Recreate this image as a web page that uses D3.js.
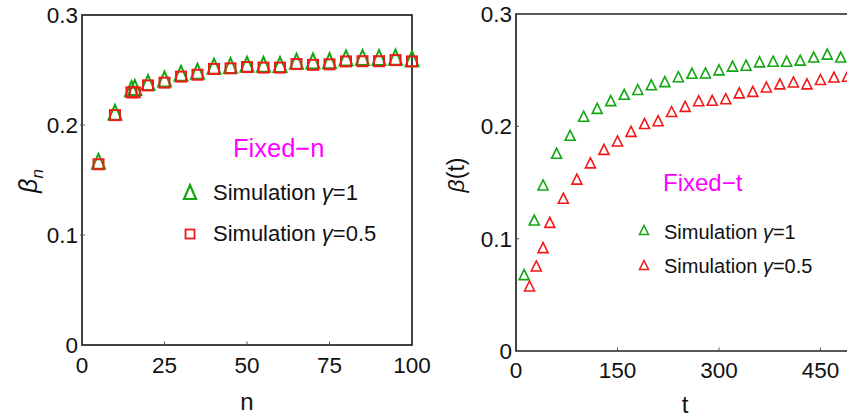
<!DOCTYPE html>
<html><head><meta charset="utf-8">
<script src="https://cdn.jsdelivr.net/npm/d3@7"></script>
<style>
html,body{margin:0;padding:0;background:#fff;}
svg{display:block;}
text{font-family:"Liberation Sans",Arial,Helvetica,sans-serif;fill:#111;}
</style></head>
<body>
<svg id="c" width="847" height="419"></svg>
<script>
// ---------- DATA ----------
const nValues = [5,10,15,16,20,25,30,35,40,45,50,55,60,65,70,75,80,85,90,95,100];
const betaN_gamma1 = [0.167,0.2115,0.233,0.234,0.2386,0.2418,0.247,0.2488,0.2535,0.254,0.2552,0.2552,0.2550,0.2580,0.2582,0.2584,0.2610,0.2614,0.2614,0.2617,0.2603];
const betaN_gamma05 = [0.1643,0.209,0.2297,0.2297,0.236,0.2385,0.244,0.2457,0.2510,0.2515,0.2527,0.2522,0.2522,0.2554,0.2547,0.2552,0.2578,0.2580,0.2580,0.2590,0.2578];

const tValues_gamma1 = [12,27,40,60,80,100,120,140,160,180,200,220,240,260,280,300,320,340,360,380,400,420,440,460,480];
const betaT_gamma1 = [0.068,0.1166,0.1478,0.176,0.192,0.209,0.216,0.2229,0.2285,0.2328,0.2370,0.2398,0.2442,0.2472,0.2475,0.2503,0.2536,0.2544,0.2574,0.2580,0.2580,0.2589,0.2617,0.2643,0.2617];
const tValues_gamma05 = [20,30,40,50,70,90,110,130,150,170,190,210,230,250,270,290,310,330,350,370,390,410,430,450,470,490];
const betaT_gamma05 = [0.0579,0.0757,0.092,0.1145,0.136,0.153,0.1675,0.1795,0.187,0.1955,0.2025,0.205,0.2132,0.2178,0.2228,0.2232,0.2246,0.2298,0.2311,0.235,0.2378,0.2395,0.2378,0.2417,0.2439,0.2446];

const xTicksN = [0,25,50,75,100];
const xTicksT = [0,150,300,450];
const yTicks = [0,0.1,0.2,0.3];
const yTickLabels = ["0","0.1","0.2","0.3"];

const legendPrefix = "Simulation ";
const legendGammas = ["1","0.5"];
const titleN = "Fixed\u2212n", titleT = "Fixed\u2212t";

// ---------- STYLE ----------
const GREEN = "#12a612", RED = "#f21818", MAGENTA = "#ff00ff", AXIS = "#222";
const svg = d3.select("#c");

function triPath(cx, cy, w, h){
  return `M${cx},${cy-h/2}L${cx+w/2},${cy+h/2}L${cx-w/2},${cy+h/2}Z`;
}
function legendText(g, x, y, size, gammaVal){
  const t = g.append("text").attr("x",x).attr("y",y).attr("font-size",size);
  t.append("tspan").text(legendPrefix);
  t.append("tspan").attr("font-style","italic").text("\u03B3");
  t.append("tspan").text("=" + gammaVal);
}

// ---------- LEFT PANEL ----------
const xL = d3.scaleLinear().domain([0,100]).range([82,412]);
const yL = d3.scaleLinear().domain([0,0.3]).range([345,15]);

const gL = svg.append("g");
gL.append("rect").attr("x",xL(0)).attr("y",yL(0.3)).attr("width",xL(100)-xL(0)).attr("height",yL(0)-yL(0.3))
  .attr("fill","none").attr("stroke",AXIS).attr("stroke-width",1.7);
xTicksN.slice(1,-1).forEach(v=>{
  gL.append("line").attr("x1",xL(v)).attr("x2",xL(v)).attr("y1",yL(0)).attr("y2",yL(0)-3.5).attr("stroke","#555").attr("stroke-width",1);
});
yTicks.slice(1,-1).forEach(v=>{
  gL.append("line").attr("x1",xL(0)-2).attr("x2",xL(0)+3).attr("y1",yL(v)).attr("y2",yL(v)).attr("stroke","#555").attr("stroke-width",1);
});
xTicksN.forEach(v=>{
  gL.append("text").attr("x",xL(v)).attr("y",373).attr("text-anchor","middle").attr("font-size",22.5).text(v);
});
yTicks.forEach((v,i)=>{
  gL.append("text").attr("x",xL(0)-4).attr("y",yL(v)).attr("dy","0.36em").attr("text-anchor","end").attr("font-size",22.5).text(yTickLabels[i]);
});
gL.append("text").attr("x",xL(50)).attr("y",410).attr("text-anchor","middle").attr("font-size",24).text("n");
const ylabL = gL.append("text").attr("transform","translate(37,181) rotate(-90)").attr("text-anchor","middle").attr("font-size",25);
ylabL.append("tspan").attr("font-style","italic").text("\u03B2");
ylabL.append("tspan").attr("font-style","italic").attr("font-size",17).attr("dy",6).text("n");

gL.selectAll("path.g1").data(nValues).join("path")
  .attr("d",(d,i)=>triPath(xL(d), yL(betaN_gamma1[i]), 13, 15))
  .attr("fill","none").attr("stroke",GREEN).attr("stroke-width",2);
gL.selectAll("rect.g05").data(nValues).join("rect")
  .attr("x",d=>xL(d)-5).attr("y",(d,i)=>yL(betaN_gamma05[i])-5).attr("width",10).attr("height",10)
  .attr("fill","none").attr("stroke",RED).attr("stroke-width",2);

gL.append("text").attr("x",233).attr("y",157).attr("font-size",25.5).style("fill",MAGENTA).text(titleN);
gL.append("path").attr("d",triPath(190,192,12,14)).attr("fill","none").attr("stroke",GREEN).attr("stroke-width",2.2);
gL.append("rect").attr("x",185.5).attr("y",229.5).attr("width",9).attr("height",9).attr("fill","none").attr("stroke",RED).attr("stroke-width",1.8);
legendText(gL, 213, 200, 22, legendGammas[0]);
legendText(gL, 213, 241, 22, legendGammas[1]);

// ---------- RIGHT PANEL ----------
const xR = d3.scaleLinear().domain([0,500]).range([516,854.3]);
const yR = d3.scaleLinear().domain([0,0.3]).range([351,14]);
const gR = svg.append("g");
gR.append("path").attr("d",`M${xR(500)},${yR(0.3)}H${xR(0)}V${yR(0)}H${xR(500)}`)
  .attr("fill","none").attr("stroke",AXIS).attr("stroke-width",1.7);
xTicksT.slice(1).forEach(v=>{
  gR.append("line").attr("x1",xR(v)).attr("x2",xR(v)).attr("y1",yR(0)).attr("y2",yR(0)-3.5).attr("stroke","#555").attr("stroke-width",1);
});
yTicks.slice(1,-1).forEach(v=>{
  gR.append("line").attr("x1",xR(0)).attr("x2",xR(0)+3).attr("y1",yR(v)).attr("y2",yR(v)).attr("stroke","#555").attr("stroke-width",1);
});
xTicksT.forEach(v=>{
  gR.append("text").attr("x",xR(v)).attr("y",378).attr("text-anchor","middle").attr("font-size",22.5).text(v);
});
yTicks.forEach((v,i)=>{
  gR.append("text").attr("x",xR(0)-4).attr("y",yR(v)).attr("dy","0.36em").attr("text-anchor","end").attr("font-size",22.5).text(yTickLabels[i]);
});
gR.append("text").attr("x",685).attr("y",413).attr("text-anchor","middle").attr("font-size",24).text("t");
const ylabR = gR.append("text").attr("transform","translate(464,175) rotate(-90)").attr("text-anchor","middle").attr("font-size",23);
ylabR.append("tspan").attr("font-style","italic").text("\u03B2");
ylabR.append("tspan").text("(t)");

gR.selectAll("path.r1").data(tValues_gamma1).join("path")
  .attr("d",(d,i)=>triPath(xR(d), yR(betaT_gamma1[i]), 10, 10))
  .attr("fill","none").attr("stroke",GREEN).attr("stroke-width",1.6);
gR.selectAll("path.r05").data(tValues_gamma05).join("path")
  .attr("d",(d,i)=>triPath(xR(d), yR(betaT_gamma05[i]), 10, 10))
  .attr("fill","none").attr("stroke",RED).attr("stroke-width",1.6);

gR.append("text").attr("x",663).attr("y",191).attr("font-size",24).style("fill",MAGENTA).text(titleT);
gR.append("path").attr("d",triPath(644,230,9,9)).attr("fill","none").attr("stroke",GREEN).attr("stroke-width",1.5);
gR.append("path").attr("d",triPath(644,265,9,9)).attr("fill","none").attr("stroke",RED).attr("stroke-width",1.5);
legendText(gR, 664, 239, 20, legendGammas[0]);
legendText(gR, 664, 273, 20, legendGammas[1]);
</script>
</body></html>
